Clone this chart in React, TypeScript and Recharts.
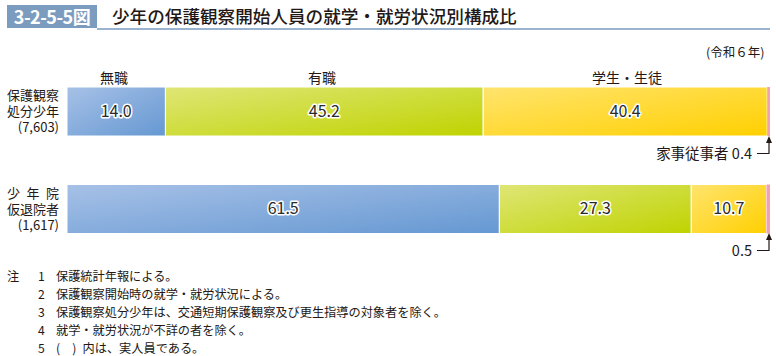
import React from 'react';
import { BarChart, Bar, XAxis, YAxis, LabelList } from 'recharts';

// 3-2-5-5図 少年の保護観察開始人員の就学・就労状況別構成比

const groups = ['保護観察処分少年', '少年院仮退院者'];
const groupLines = ['保護観察\n処分少年\n(7,603)', '少\u2002年\u2002院\n仮退院者\n(1,617)'];
const mushoku = [14.0, 61.5];
const yushoku = [45.2, 27.3];
const gakusei = [40.4, 10.7];
const kaji = [0.4, 0.5];

const notes = [
  ['注', '1', '保護統計年報による。'],
  ['', '2', '保護観察開始時の就学・就労状況による。'],
  ['', '3', '保護観察処分少年は、交通短期保護観察及び更生指導の対象者を除く。'],
  ['', '4', '就学・就労状況が不詳の者を除く。'],
  ['', '5', '(\u3000)\u2002内は、実人員である。'],
];

const data = groups.map((g, i) => ({
  name: g,
  mushoku: mushoku[i],
  yushoku: yushoku[i],
  gakusei: gakusei[i],
  kaji: kaji[i],
}));

const FONT = '"Noto Sans CJK JP", "Noto Sans", sans-serif';
const TEXT = '#231815';

const ValueLabel = (props: any) => {
  const { x, y, width, height, value } = props;
  return (
    <text
      x={x + width / 2}
      y={y + height / 2 + 1}
      textAnchor="middle"
      dominantBaseline="middle"
      fontSize={16}
      fontFamily={FONT}
      fill="#2a2a2a"
      stroke="#fff"
      strokeWidth={3}
      paintOrder="stroke"
      strokeLinejoin="round"
    >
      {Number(value).toFixed(1)}
    </text>
  );
};

const abs = (x: number, y: number, extra: React.CSSProperties = {}): React.CSSProperties => ({
  position: 'absolute',
  left: x,
  top: y,
  whiteSpace: 'nowrap',
  ...extra,
});

export default function App() {
  return (
    <div
      style={{
        position: 'absolute',
        left: 0,
        top: 0,
        width: 776,
        height: 356,
        background: '#fff',
        fontFamily: FONT,
        color: TEXT,
        overflow: 'hidden',
      }}
    >
      {/* title */}
      <div
        style={abs(7, 5, {
          width: 90,
          height: 23,
          background: '#7b9cbf',
          color: '#fff',
          fontSize: 18,
          fontWeight: 700,
          lineHeight: '23px',
          textAlign: 'center',
          letterSpacing: -0.5,
        })}
      >
        3-2-5-5図
      </div>
      <div style={abs(112, 4, { fontSize: 17.6, lineHeight: '24px', fontWeight: 500 })}>
        少年の保護観察開始人員の就学・就労状況別構成比
      </div>
      <div style={abs(97, 28, { width: 673, height: 2, background: '#9ab4cf' })} />
      <div style={abs(706, 42, { fontSize: 12.5 })}>(令和６年)</div>

      {/* category labels */}
      <div style={abs(100, 67, { fontSize: 14 })}>無職</div>
      <div style={abs(308, 67, { fontSize: 14 })}>有職</div>
      <div style={abs(592, 67, { fontSize: 14 })}>学生・生徒</div>

      {/* group labels */}
      {groupLines.map((t, i) => (
        <div
          key={i}
          style={abs(0, 87 + i * 97.5, {
            width: 59,
            textAlign: 'right',
            fontSize: 13,
            lineHeight: '16px',
            whiteSpace: 'pre-line',
          })}
        >
          {t}
        </div>
      ))}

      <div style={abs(0, 0)}>
        <BarChart
          width={776}
          height={356}
          data={data}
          layout="vertical"
          margin={{ top: 63, right: 6, bottom: 98, left: 67 }}
          barCategoryGap={0}
        >
          <defs>
            <linearGradient id="gMushoku" x1="0" y1="0" x2="1" y2="1">
              <stop offset="0%" stopColor="#a7c1e7" />
              <stop offset="100%" stopColor="#6598d2" />
            </linearGradient>
            <linearGradient id="gYushoku" x1="0" y1="0" x2="1" y2="1">
              <stop offset="0%" stopColor="#dfe676" />
              <stop offset="100%" stopColor="#bfd300" />
            </linearGradient>
            <linearGradient id="gGakusei" x1="0" y1="0" x2="1" y2="1">
              <stop offset="0%" stopColor="#ffe46e" />
              <stop offset="100%" stopColor="#ffd000" />
            </linearGradient>
          </defs>
          <XAxis type="number" domain={[0, 100]} hide />
          <YAxis type="category" dataKey="name" hide />
          <Bar dataKey="mushoku" stackId="a" barSize={49} fill="url(#gMushoku)" stroke="#fff" strokeWidth={1} isAnimationActive={false}>
            <LabelList dataKey="mushoku" content={ValueLabel} />
          </Bar>
          <Bar dataKey="yushoku" stackId="a" barSize={49} fill="url(#gYushoku)" stroke="#fff" strokeWidth={1} isAnimationActive={false}>
            <LabelList dataKey="yushoku" content={ValueLabel} />
          </Bar>
          <Bar dataKey="gakusei" stackId="a" barSize={49} fill="url(#gGakusei)" stroke="#fff" strokeWidth={1} isAnimationActive={false}>
            <LabelList dataKey="gakusei" content={ValueLabel} />
          </Bar>
          <Bar dataKey="kaji" stackId="a" barSize={49} fill="#f3a1b2" isAnimationActive={false} />
        </BarChart>
      </div>

      {/* small-share annotations */}
      <div style={abs(596, 142, { width: 156, textAlign: 'right', fontSize: 14.5 })}>家事従事者&nbsp;0.4</div>
      <div style={abs(700, 239, { width: 52, textAlign: 'right', fontSize: 14.5 })}>0.5</div>
      <svg width={776} height={356} style={abs(0, 0, { pointerEvents: 'none' })}>
        <g stroke={TEXT} strokeWidth={1.2} fill="none">
          <polyline points="757,153.5 769,153.5 769,140" />
          <polyline points="757,250.5 769,250.5 769,237" />
        </g>
        <polygon points="769,136 766,143 772,143" fill={TEXT} />
        <polygon points="769,233 766,240 772,240" fill={TEXT} />
      </svg>

      {/* notes */}
      {notes.map((n, i) => (
        <div key={i} style={abs(7, 267 + i * 18, { fontSize: 12.2, lineHeight: '18px', display: 'flex' })}>
          <span style={{ width: 31 }}>{n[0]}</span>
          <span style={{ width: 18 }}>{n[1]}</span>
          <span>{n[2]}</span>
        </div>
      ))}
    </div>
  );
}
